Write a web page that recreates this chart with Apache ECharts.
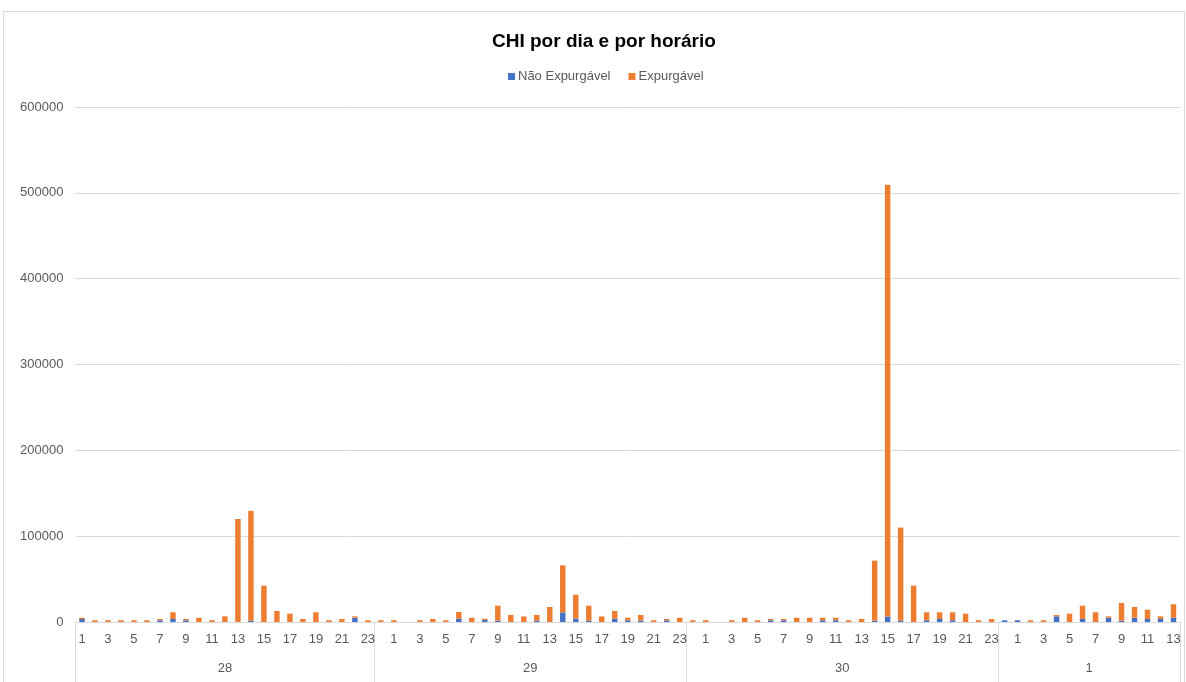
<!DOCTYPE html>
<html>
<head>
<meta charset="utf-8">
<script src="https://cdn.jsdelivr.net/npm/echarts@6/dist/echarts.min.js"></script>
<style>
  html, body { margin: 0; padding: 0; background: #fff; }
  #chart { width: 1186px; height: 682px; }
  .frame {
    position: absolute; left: 3px; top: 11px; width: 1180px; height: 700px;
    border: 1px solid #d9d9d9; pointer-events: none;
  }
</style>
</head>
<body>
<div id="chart"></div>
<div class="frame"></div>
<script>
// dias e quantidade de horas de cada dia
const dayLabels = ['28', '29', '30', '1'];
const dayHourCounts = [23, 24, 24, 14];

// rótulos das horas (eixo de baixo, 1º nível)
const hourLabels = [
  '1','2','3','4','5','6','7','8','9','10','11','12','13','14','15','16','17','18','19','20','21','22','23',
  '0','1','2','3','4','5','6','7','8','9','10','11','12','13','14','15','16','17','18','19','20','21','22','23',
  '0','1','2','3','4','5','6','7','8','9','10','11','12','13','14','15','16','17','18','19','20','21','22','23',
  '0','1','2','3','4','5','6','7','8','9','10','11','12','13'
];

const naoExpurgavel = [
  3500, 0, 0, 0, 0, 0, 2000, 3500, 2000, 0, 0, 0, 0, 1500, 0, 0, 0, 0, 0, 0, 0, 5000, 0,
  0, 0, 0, 0, 0, 0, 3800, 0, 2300, 1500, 0, 0, 1500, 0, 11200, 3900, 1500, 0, 3800, 2000, 1700, 0, 2000, 0,
  0, 0, 0, 0, 0, 0, 2000, 2000, 0, 0, 2000, 2000, 0, 0, 1500, 6500, 1500, 0, 2000, 3500, 2000, 0, 0, 0,
  2000, 2000, 0, 0, 6600, 0, 3500, 0, 5000, 1500, 5000, 3500, 3500, 5000
];

const expurgavel = [
  1500, 2000, 2000, 2000, 2000, 2000, 1500, 7800, 1500, 5000, 2000, 6600, 120000, 128000, 42300, 12800, 9700, 3500, 11300, 2000, 3500, 1600, 2000,
  2000, 2000, 0, 2000, 3500, 2000, 7900, 5000, 1500, 17500, 8200, 6500, 6700, 17500, 54800, 27900, 17500, 6500, 9000, 3000, 6500, 2000, 1500, 5000,
  2000, 2000, 0, 2000, 5000, 2000, 1500, 1500, 5000, 5000, 3000, 3000, 2000, 3500, 70000, 503000, 108500, 42300, 9300, 7800, 9300, 9700, 2000, 3500,
  0, 0, 2000, 2000, 1600, 9700, 15500, 11300, 1600, 20600, 12500, 10800, 3100, 15600
];

// eixo dos dias: meia-hora por ponto, para por o rótulo no meio e as linhas nas divisas
const dayAxisData = [];
const dayCenters = {};
const dayBounds = {};
let start = 0;
dayLabels.forEach((d, i) => {
  dayBounds[2 * start] = true;
  dayCenters[2 * start + dayHourCounts[i]] = d;
  start += dayHourCounts[i];
});
dayBounds[2 * start] = true;
for (let k = 0; k <= 2 * start; k++) {
  dayAxisData.push(dayCenters[k] || '');
}

const myChart = echarts.init(document.getElementById('chart'));

const option = {
  animation: false,
  textStyle: { fontFamily: 'Liberation Sans, Arial, sans-serif' },
  title: {
    text: 'CHI por dia e por horário',
    left: 487,
    top: 27,
    textStyle: { fontSize: 19, fontWeight: 'bold', color: '#000' }
  },
  legend: {
    data: ['Não Expurgável', 'Expurgável'],
    top: 65,
    left: 503,
    icon: 'rect',
    itemWidth: 7,
    itemHeight: 7,
    itemGap: 18,
    itemStyle: { borderWidth: 0 },
    textStyle: { fontSize: 13, color: '#595959', padding: [0, 0, 0, -2] }
  },
  grid: {
    left: 75.5,
    right: 6,
    top: 107,
    bottom: 60,
    containLabel: false
  },
  xAxis: [
    {
      type: 'category',
      data: hourLabels,
      position: 'bottom',
      axisLine: { show: true, lineStyle: { color: '#d9d9d9' } },
      axisTick: { show: false },
      axisLabel: { interval: 1, margin: 11, fontSize: 13, color: '#595959' }
    },
    {
      type: 'category',
      data: dayAxisData,
      position: 'bottom',
      boundaryGap: false,
      axisLine: { show: false },
      axisTick: {
        show: true,
        length: 62,
        interval: (idx) => !!dayBounds[idx],
        lineStyle: { color: '#d9d9d9' }
      },
      axisLabel: {
        interval: (idx) => dayAxisData[idx] !== '',
        margin: 40,
        fontSize: 13,
        color: '#595959'
      }
    }
  ],
  yAxis: {
    type: 'value',
    min: 0,
    max: 600000,
    interval: 100000,
    axisLine: { show: false },
    axisTick: { show: false },
    axisLabel: {
      margin: 12,
      fontSize: 13,
      color: '#595959',
      formatter: (v) => String(v)
    },
    splitLine: { lineStyle: { color: '#d9d9d9' } }
  },
  series: [
    {
      name: 'Não Expurgável',
      type: 'bar',
      stack: 'chi',
      barWidth: '42%',
      itemStyle: { color: '#4472C4' },
      data: naoExpurgavel
    },
    {
      name: 'Expurgável',
      type: 'bar',
      stack: 'chi',
      barWidth: '42%',
      itemStyle: { color: '#ED7D31' },
      data: expurgavel
    }
  ]
};

myChart.setOption(option);
</script>
</body>
</html>
